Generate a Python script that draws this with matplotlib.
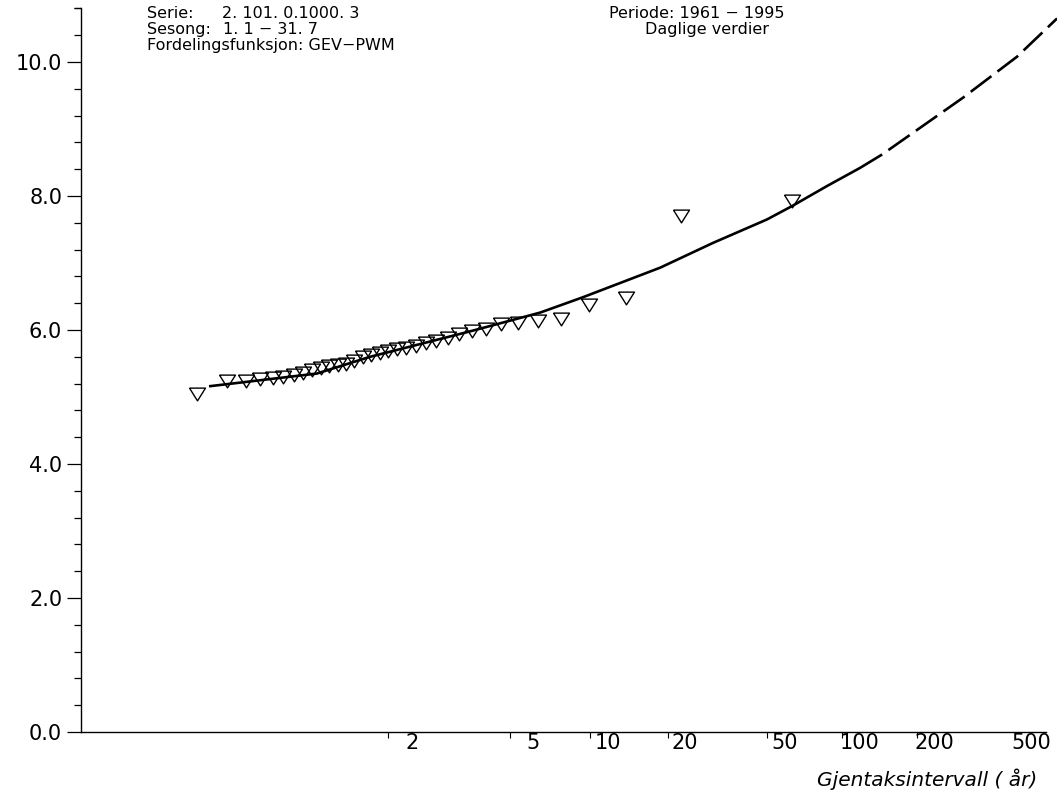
import numpy as np
import matplotlib
matplotlib.use("Agg")
import matplotlib.pyplot as plt
from matplotlib.ticker import FixedLocator, NullLocator, FixedFormatter
from matplotlib.transforms import offset_copy, blended_transform_factory

# ---------------- data ----------------
# return periods (years) of the 35 ranked annual values (plotting positions)
return_periods = [1.0162, 1.0465, 1.0786, 1.1128, 1.1492, 1.1881, 1.2297, 1.2743,
                  1.3223, 1.3740, 1.4300, 1.4907, 1.5567, 1.6289, 1.7082, 1.7955,
                  1.8922, 2.0000, 2.1208, 2.2571, 2.4121, 2.5900, 2.7962, 3.0381,
                  3.3258, 3.6736, 4.1028, 4.6455, 5.3537, 6.3165, 7.7018, 9.8652,
                  13.719, 22.513, 62.714]
annual_values = [5.05, 5.24, 5.245, 5.27, 5.28, 5.30, 5.33, 5.36,
                 5.40, 5.44, 5.46, 5.48, 5.50, 5.53, 5.60, 5.63,
                 5.65, 5.69, 5.71, 5.73, 5.76, 5.80, 5.83, 5.88,
                 5.94, 5.99, 6.02, 6.09, 6.10, 6.14, 6.16, 6.37,
                 6.48, 7.70, 7.93]

# fitted GEV-PWM curve (solid part) and its extrapolation (dashed part)
curve_T = [1.0256, 1.35, 1.784, 3.62, 6.46, 9.38, 18.7, 30.3, 49.8, 62.8, 86.9, 118.0, 144.8]
curve_val = [5.16, 5.35, 5.60, 5.98, 6.26, 6.49, 6.93, 7.30, 7.65, 7.85, 8.15, 8.42, 8.62]
ext_T = [144.8, 307.9, 508.4, 738.0]
ext_val = [8.62, 9.47, 10.08, 10.65]

x_tick_T = [2, 5, 10, 20, 50, 100, 200, 500]
x_tick_labels = ["2", "5", "10", "20", "50", "100", "200", "500"]
y_major = [0.0, 2.0, 4.0, 6.0, 8.0, 10.0]
y_minor = [round(0.4 * k, 1) for k in range(0, 28)]

# (text, x px, baseline y px, horizontal alignment)
header_lines = [
    ("Serie:", 147, 18, "left"), ("2. 101. 0.1000. 3", 222, 18, "left"),
    ("Periode: 1961 \u2212 1995", 697, 18, "center"),
    ("Sesong:", 147, 34, "left"), ("1. 1 \u2212 31. 7", 223, 34, "left"),
    ("Daglige verdier", 707, 34, "center"),
    ("Fordelingsfunksjon: GEV\u2212PWM", 147, 50, "left"),
]
x_label = "Gjentaksintervall ( \u00e5r)"

# ---------------- figure ----------------
plt.rcParams["font.family"] = ["DejaVu Sans"]
plt.rcParams["lines.scale_dashes"] = False
W, H = 1057, 798
fig = plt.figure(figsize=(W / 100, H / 100), dpi=100)
ax = fig.add_axes([81 / W, (H - 732) / H, (1046 - 81) / W, (732 - 8.4) / H])


def gumbel_fwd(T):
    T = np.asarray(T, dtype=float)
    with np.errstate(all="ignore"):
        return -np.log(-np.log(1.0 - 1.0 / T))


def gumbel_inv(u):
    u = np.asarray(u, dtype=float)
    with np.errstate(all="ignore"):
        return 1.0 / (1.0 - np.exp(-np.exp(-u)))


ax.set_xscale("function", functions=(gumbel_fwd, gumbel_inv))
ax.set_xlim(float(gumbel_inv(-2.5)), float(gumbel_inv(6.5)))
ax.set_ylim(0, 10.8)

tri = [(-1.0, 0.8), (1.0, 0.8), (0.0, -0.8), (-1.0, 0.8)]
ax.plot(return_periods, annual_values, linestyle="none", marker=tri, ms=11.5,
        mfc="none", mec="black", mew=1.0, clip_on=False, zorder=3)
ax.plot(curve_T, curve_val, color="black", lw=1.9, solid_capstyle="butt", zorder=2)
ax.plot(ext_T, ext_val, color="black", lw=1.9, linestyle=(18.7, (18.7, 5.5)),
        dash_capstyle="butt", clip_on=False, zorder=2)

for s in ["top", "right"]:
    ax.spines[s].set_visible(False)
for s in ["left", "bottom"]:
    ax.spines[s].set_linewidth(1.0)

# y axis
ax.yaxis.set_major_locator(FixedLocator(y_major))
ax.yaxis.set_major_formatter(FixedFormatter(["%.1f" % v for v in y_major]))
ax.yaxis.set_minor_locator(FixedLocator(y_minor + [10.8]))
ax.tick_params(axis="y", which="major", length=10, width=0.9, direction="out",
               labelsize=15, pad=3.5)
ax.tick_params(axis="y", which="minor", length=5, width=0.9, direction="out")

# x axis
ax.xaxis.set_major_locator(FixedLocator(x_tick_T))
ax.xaxis.set_major_formatter(FixedFormatter([""] * len(x_tick_T)))
ax.xaxis.set_minor_locator(NullLocator())
ax.tick_params(axis="x", which="major", length=4.5, width=0.8, direction="out")

lab_off = [24, 23, 18, 17, 17, 17, 17, 16]
blend = blended_transform_factory(ax.transData, ax.transAxes)
for T, lab, off in zip(x_tick_T, x_tick_labels, lab_off):
    tr = offset_copy(blend, fig=fig, x=off, y=-1, units="dots")
    ax.text(T, 0, lab, transform=tr, ha="center", va="top", fontsize=15)

# header texts
for txt, px, py, ha in header_lines:
    fig.text(px / W, 1 - py / H, txt, ha=ha, va="baseline", fontsize=11.5)

fig.text(1037 / W, 1 - 786 / H, x_label, ha="right", va="baseline", fontsize=14.5,
         style="italic")

fig.savefig("out.png", dpi=100)
